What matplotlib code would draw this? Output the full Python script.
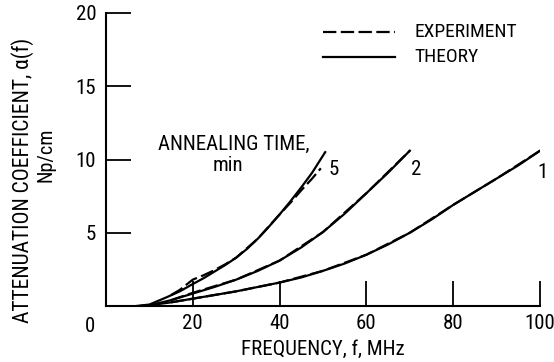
import matplotlib.pyplot as plt
import numpy as np

plt.rcParams['font.family'] = ['Roboto Condensed', 'Archivo Narrow', 'Barlow Condensed', 'DejaVu Sans']

# theory curves, annealing time 1, 2, 5 min
f_1 = [8, 10, 15, 20, 25, 30, 35, 40, 45, 50, 55, 60, 65, 70, 75, 80, 85, 90, 95, 100]
a_1 = [0, 0.05, 0.25, 0.5, 0.75, 1.0, 1.3, 1.6, 1.95, 2.4, 2.9, 3.5, 4.2, 5.0, 5.9, 6.9, 7.8, 8.7, 9.6, 10.6]
f_2 = [8, 10, 15, 20, 25, 30, 35, 40, 45, 50, 55, 60, 65, 70]
a_2 = [0, 0.05, 0.4, 0.85, 1.3, 1.8, 2.4, 3.1, 4.0, 5.05, 6.3, 7.7, 9.1, 10.6]
f_5 = [7, 10, 14, 17, 20, 22.5, 25, 27.5, 30, 32.5, 35, 37.5, 40, 42.5, 45, 47.5, 50.5]
a_5 = [0, 0.1, 0.6, 1.0, 1.5, 1.9, 2.35, 2.8, 3.3, 3.9, 4.6, 5.4, 6.25, 7.15, 8.1, 9.1, 10.5]

# experiment curves
fe_1 = [15, 20, 30, 40, 50, 60, 70, 80, 90, 100]
ae_1 = [0.25, 0.5, 1.0, 1.6, 2.4, 3.5, 5.0, 6.9, 8.7, 10.6]
fe_2 = [15, 20, 25, 30, 40, 50, 60, 70]
ae_2 = [0.4, 0.9, 1.35, 1.8, 3.1, 5.05, 7.7, 10.6]
fe_5 = [15, 17, 20, 22.5, 25, 27.5, 30, 35, 40, 42.5, 45, 47.5, 49.5]
ae_5 = [0.75, 1.1, 1.8, 2.1, 2.45, 2.85, 3.3, 4.6, 6.25, 7.05, 7.9, 8.7, 9.4]

fig = plt.figure(figsize=(5.54, 3.62), dpi=100)
ax = fig.add_axes([106 / 554, 56 / 362, 434 / 554, 293 / 362])

for f, a in [(f_1, a_1), (f_2, a_2), (f_5, a_5)]:
    ax.plot(f, a, color='black', linewidth=1.6)
for f, a in [(fe_1, ae_1), (fe_2, ae_2), (fe_5, ae_5)]:
    ax.plot(f, a, color='black', linewidth=1.6, linestyle=(0, (6, 2)))

ax.set_xlim(0, 100)
ax.set_ylim(0, 20)
ax.set_xticks([20, 40, 60, 80, 100])
ax.set_yticks([5, 10, 15, 20])
ax.tick_params(direction='in', length=18, width=1.3, labelsize=15, pad=6)
ax.tick_params(axis='y', pad=7)
ax.spines['top'].set_visible(False)
ax.spines['right'].set_visible(False)
ax.spines['left'].set_linewidth(1.5)
ax.spines['bottom'].set_linewidth(1.5)
ax.text(-3.6, -0.75, '0', fontsize=15, ha='center', va='top')

ax.set_xlabel('FREQUENCY, f, MHz', fontsize=15, labelpad=5)
fig.text(23 / 554, 1 - 180 / 362, 'ATTENUATION COEFFICIENT, \u03b1(f)', fontsize=15.5,
         rotation=90, ha='center', va='center')
fig.text(46 / 554, 1 - 155 / 362, 'Np/cm', fontsize=14.5, rotation=90, ha='center', va='center')

ax.text(29.4, 11.0, 'ANNEALING TIME,', fontsize=15, ha='center', va='center')
ax.text(28.1, 9.6, 'min', fontsize=15, ha='center', va='center')
ax.text(52.5, 9.3, '5', fontsize=15, ha='center', va='center')
ax.text(71.5, 9.3, '2', fontsize=15, ha='center', va='center')
ax.text(100.5, 9.1, '1', fontsize=15, ha='center', va='center')

# legend drawn by hand as in the original
ax.plot([50, 66.5], [18.7, 18.7], color='black', linewidth=1.6, linestyle=(0, (6, 2)))
ax.plot([50, 66.5], [17.0, 17.0], color='black', linewidth=1.6)
ax.text(71, 18.7, 'EXPERIMENT', fontsize=14, va='center')
ax.text(71, 17.0, 'THEORY', fontsize=14, va='center')

plt.savefig('out.png', dpi=100)
